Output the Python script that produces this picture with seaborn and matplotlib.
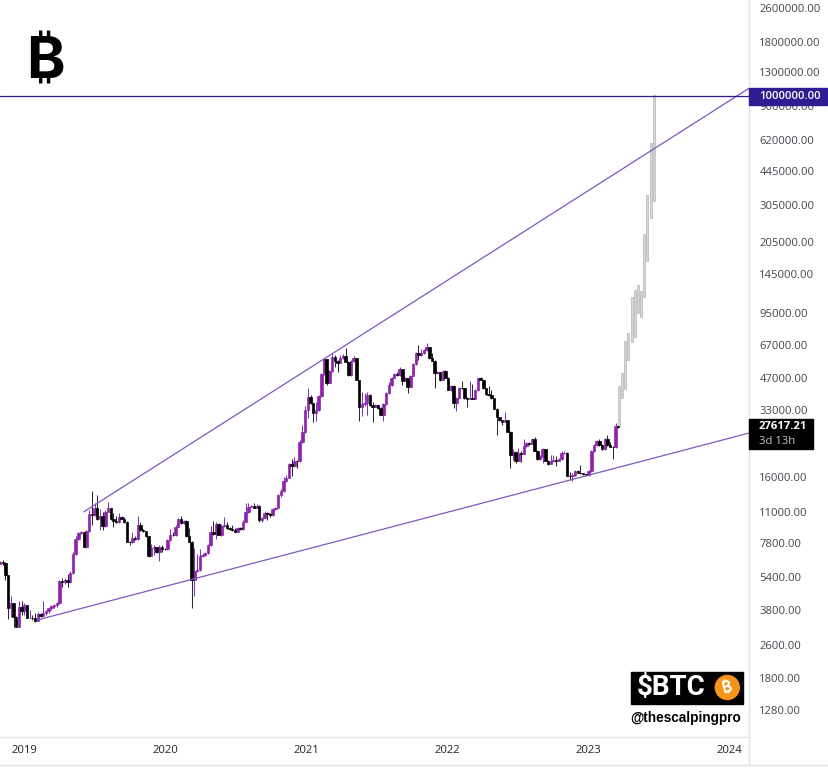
import matplotlib
matplotlib.use("Agg")
import matplotlib.pyplot as plt
import matplotlib.dates as mdates
from matplotlib.lines import Line2D
from matplotlib.patches import Rectangle, Ellipse
from matplotlib.ticker import NullLocator
import numpy as np
import pandas as pd
import seaborn as sns

# weekly candles
first_open = 6240
closes = [6380, 6290, 5500, 3880, 4090, 3520, 3160, 3910, 3760, 4000,
          3460, 3480, 3470, 3340, 3620, 3560, 3660, 3750, 3860, 3960,
          4000, 4080, 5190, 5100, 5250, 5100, 5680, 6960, 8190, 8710,
          8770, 7490, 8900, 10700, 10650, 11460, 10140, 10500, 9420, 11000,
          11460, 10200, 9980, 9870, 10360, 10200, 9870, 7950, 7870, 8250,
          8160, 9530, 9020, 8930, 8400, 6810, 7400, 7490, 7060, 7490,
          7330, 7310, 8100, 8550, 8490, 9350, 10140, 9710, 9950, 8400,
          7950, 5250, 5750, 5850, 6760, 6890, 7020, 7670, 8800, 8640,
          9630, 8550, 9450, 9530, 9190, 9090, 9020, 8860, 9190, 9090,
          9870, 10930, 11620, 11710, 11500, 11750, 10060, 10310, 10890, 10700,
          10620, 11300, 11500, 13190, 13820, 15350, 15860, 18410, 18070, 19140,
          19020, 23520, 26050, 33160, 38050, 35660, 32000, 33160, 38600, 48990,
          57630, 44580, 50440, 59080, 56580, 55370, 58070, 59530, 55970, 48460,
          56400, 58260, 45900, 34370, 35390, 35660, 39020, 35010, 34370, 35010,
          33890, 31410, 35390, 39740, 43490, 47060, 48830, 48300, 51710, 45560,
          46760, 42690, 48100, 54410, 61700, 60180, 61300, 63530, 65840, 58070,
          56580, 49360, 49900, 45900, 50770, 47060, 41190, 43020, 35890, 37650,
          42230, 41960, 37650, 37480, 37890, 37480, 41190, 46760, 45900, 41960,
          39310, 39020, 37650, 33640, 30640, 29760, 29220, 29760, 26210, 20360,
          21100, 19140, 20870, 20650, 22450, 23260, 22940, 24300, 21330, 19440,
          19980, 21730, 19140, 18470, 19080, 19290, 19140, 19440, 20740, 20870,
          16210, 16180, 16390, 17160, 16800, 16700, 16520, 16340, 17110, 21330,
          22690, 23700, 22690, 21660, 24220, 22690, 22280, 22130, 27880, 27617.21]
highs = [6450, 6520, 6340, 5540, 4410, 4090, 3550, 4150, 4190, 4090,
         4000, 3790, 3590, 3670, 3720, 3680, 4180, 3790, 3920, 4000,
         4050, 4110, 5250, 5380, 5360, 5600, 5790, 7110, 8400, 8830,
         8930, 8830, 9020, 11210, 13780, 12140, 13190, 11300, 11000, 11210,
         12230, 11460, 10820, 10500, 10890, 10500, 10390, 9950, 8040, 8860,
         8400, 10500, 9870, 9120, 8880, 8460, 7760, 7670, 7510, 7670,
         7670, 7430, 8190, 9090, 8770, 9530, 10280, 10500, 10060, 10060,
         9250, 8010, 7400, 6940, 7330, 7040, 7110, 7760, 9420, 9980,
         9870, 9740, 9630, 10360, 9870, 9320, 9530, 9220, 9320, 9320,
         10060, 12140, 12140, 11840, 12090, 11900, 11840, 10390, 11090, 10970,
         10890, 11390, 11580, 13330, 14080, 16070, 16390, 18670, 19440, 19980,
         19290, 23960, 28190, 34630, 41960, 38900, 35780, 36280, 39020, 49520,
         58070, 57630, 51160, 61300, 60180, 57010, 60180, 60840, 64710, 56400,
         57010, 59530, 58260, 45900, 40440, 39740, 40440, 39230, 36280, 35390,
         35010, 34070, 35780, 40310, 45060, 47420, 49520, 50220, 52680, 51710,
         47160, 46910, 48460, 54890, 62170, 67070, 64010, 64220, 68310, 65980,
         61500, 56700, 50330, 50060, 51160, 50880, 47160, 43490, 43250, 38180,
         42550, 45560, 42100, 38180, 45410, 44100, 41640, 47060, 47580, 45900,
         42100, 43020, 41190, 37770, 33710, 30740, 29760, 32560, 29760, 26410,
         21660, 21260, 21890, 21330, 24140, 23440, 23440, 24480, 24830, 21490,
         20250, 21960, 21730, 19180, 20360, 20360, 20140, 19600, 21330, 21260,
         20920, 16980, 16750, 17300, 17300, 18270, 16750, 16570, 17200, 21490,
         22940, 23960, 24220, 22820, 24480, 25290, 23440, 22450, 28660, 27880]
lows = [6240, 6180, 5210, 3440, 3520, 3160, 3140, 3150, 3590, 3590,
        3460, 3450, 3400, 3330, 3340, 3520, 3550, 3590, 3670, 3790,
        3870, 3920, 4050, 4880, 5030, 4830, 5080, 5600, 6890, 8100,
        8640, 7460, 7430, 8830, 9530, 10500, 10060, 9020, 9020, 9350,
        10970, 10060, 9350, 9770, 9740, 10170, 9740, 7930, 7650, 7800,
        8100, 8100, 8930, 8830, 8370, 6720, 6780, 6890, 7020, 6470,
        7060, 7270, 7270, 8010, 8460, 8420, 9320, 9630, 9630, 8370,
        7930, 3880, 4380, 5730, 5790, 6720, 6810, 6960, 7590, 8550,
        8190, 8500, 8460, 9320, 9120, 9020, 8930, 8830, 8830, 9020,
        9020, 9840, 10850, 11580, 11390, 11460, 9870, 9870, 10220, 10060,
        10360, 10500, 11210, 11460, 12910, 13630, 15100, 15770, 16260, 17820,
        17620, 18870, 23190, 25850, 30310, 35390, 29020, 29340, 32810, 38180,
        48460, 43490, 44440, 50060, 52680, 50220, 55190, 57630, 55790, 47940,
        47940, 55790, 45650, 29530, 31070, 34630, 31410, 34630, 29020, 34070,
        33530, 31240, 29340, 35010, 39440, 43020, 46910, 47940, 47940, 43490,
        45410, 39740, 42550, 47940, 54000, 57010, 59850, 60840, 62850, 57630,
        56400, 41960, 48990, 45410, 45650, 46910, 40970, 40750, 34000, 32920,
        37360, 41640, 37360, 34370, 37160, 37160, 37160, 40750, 45650, 41640,
        39020, 38600, 37360, 33530, 25290, 29530, 28190, 29120, 26130, 17620,
        19290, 18610, 19080, 18930, 20580, 22200, 22690, 22820, 21260, 19290,
        19290, 18610, 19080, 18330, 18370, 18870, 18070, 19080, 19290, 20580,
        16120, 15520, 15400, 16210, 16750, 16570, 16390, 16210, 16210, 16930,
        21030, 22450, 22450, 21490, 21490, 22450, 22080, 19500, 21960, 27290]

# projected grey bars
proj_dates = ["2023-03-22", "2023-03-29", "2023-04-07", "2023-04-14", "2023-04-25", "2023-05-02",
              "2023-05-10", "2023-05-18", "2023-05-26", "2023-06-03", "2023-06-13", "2023-06-21"]
proj_low = [27880, 37770, 41640, 57010, 69280, 73100, 94900, 90900, 112900, 166900, 266100, 320000]
proj_high = [43020, 49520, 70040, 76400, 112900, 121800, 128600, 120500, 223700, 341600, 600400, 1011000]

# trend lines
upper_dates = ["2019-06-03", "2024-02-22"]
upper_prices = [10970, 1087000]
lower_dates = ["2019-02-04", "2024-02-22"]
lower_prices = [3400, 25800]
target_price = 1000000

price_ticks = [2600000, 1800000, 1300000, 900000, 620000, 445000, 305000, 205000, 145000,
               95000, 67000, 47000, 33000, 16000, 11000, 7800, 5400, 3800, 2600, 1800, 1280]
year_ticks = [2019, 2020, 2021, 2022, 2023, 2024]

W, H = 829, 768
UP = "#8e24aa"
UP_WICK = "#7b35bd"
DOWN = "#000000"
DOWN_WICK = "#2a2a2e"
LINE = "#7e57c2"
INDIGO = "#311b92"
AXIS = "#e0e3eb"
TEXT = "#43464f"
BTC_FONTS = ["Inter", "Noto Sans", "Roboto", "Lato", "Open Sans", "Liberation Sans", "DejaVu Sans"]

sns.set_style("white")
plt.rcParams["font.family"] = ["Open Sans", "DejaVu Sans"]

def fx(px):
    return px / W

def fy(py):
    return 1 - py / H

fig = plt.figure(figsize=(W / 100, H / 100), dpi=100)
ax = fig.add_axes([0, fy(737), fx(749), 737 / H])

num = lambda d: mdates.date2num(pd.to_datetime(d))
dates = num(pd.date_range("2018-10-29", periods=len(closes), freq="7D"))
closes_a = np.array(closes, dtype=float)
opens_a = np.r_[first_open, closes_a[:-1]]
up = closes_a >= opens_a

ax.set_yscale("log")
# wicks
ax.vlines(dates[up], np.array(lows)[up], np.array(highs)[up], color=UP_WICK, lw=0.75, zorder=2)
ax.vlines(dates[~up], np.array(lows)[~up], np.array(highs)[~up], color=DOWN_WICK, lw=0.75, zorder=2)
# bodies
bar_w = 6.4
ax.bar(dates[up], (closes_a - opens_a)[up], bottom=opens_a[up], width=bar_w, color=UP, edgecolor=UP, lw=0.5, zorder=2.2)
ax.bar(dates[~up], (opens_a - closes_a)[~up], bottom=closes_a[~up], width=bar_w, color=DOWN, edgecolor=DOWN, lw=0.5, zorder=2.2)

pd_x = num(proj_dates)
ax.bar(pd_x, np.array(proj_high) - np.array(proj_low), bottom=proj_low, width=6.2,
       color="#d8d8d8", edgecolor="#b4b4b4", lw=0.5, zorder=2)

sns.lineplot(x=num(upper_dates), y=upper_prices, color=LINE, lw=0.9, ax=ax, zorder=3, estimator=None)
sns.lineplot(x=num(lower_dates), y=lower_prices, color=LINE, lw=0.9, ax=ax, zorder=3, estimator=None)
ax.axhline(target_price, color=INDIGO, lw=0.9, zorder=3)

ax.set_xlim(num("2018-10-28 20:00"), num("2024-02-22"))
ax.set_ylim(10 ** (6 - (737 - 96) / 212.2), 10 ** (6 + 96 / 212.2))

ax.yaxis.tick_right()
ax.set_yticks(price_ticks)
ax.set_yticklabels(["%.2f" % p for p in price_ticks])
ax.yaxis.set_minor_locator(NullLocator())
ax.set_xticks(num(["%d-01-01" % y for y in year_ticks]))
ax.set_xticklabels([str(y) for y in year_ticks])
ax.tick_params(axis="y", length=0, pad=7.5, labelsize=8.1, labelcolor=TEXT)
ax.tick_params(axis="x", length=0, pad=6, labelsize=8.1, labelcolor="#222222")
ax.grid(False)
for s in ["top", "left"]:
    ax.spines[s].set_visible(False)
for s in ["right", "bottom"]:
    ax.spines[s].set_color(AXIS)
    ax.spines[s].set_linewidth(1)

# axis frame below the time scale
fig.add_artist(Line2D([0, 1], [fy(764.5), fy(764.5)], color=AXIS, lw=1))
fig.add_artist(Line2D([fx(749), fx(749)], [fy(737), fy(765)], color=AXIS, lw=1))

# price labels
fig.add_artist(Rectangle((fx(749), fy(105)), fx(78), 17 / H, color=INDIGO, zorder=4))
fig.text(fx(759), fy(96.5), "1000000.00", color="white", fontsize=8.1, fontweight="semibold", va="center", zorder=5)
fig.add_artist(Rectangle((fx(749), fy(449)), fx(64), 30 / H, color="black", zorder=4))
fig.text(fx(759), fy(426.5), "27617.21", color="white", fontsize=8.1, fontweight="bold", va="center", zorder=5)
fig.text(fx(759), fy(441), "3d 13h", color="#c4c4c4", fontsize=8.1, va="center", zorder=5)

# logo
fig.text(fx(45.5), fy(63), "\u20bf", fontsize=42, fontweight="bold", family=BTC_FONTS,
         color="black", ha="center", va="center")

# watermark
fig.add_artist(Rectangle((fx(631), fy(704)), fx(112), 32 / H, color="black", zorder=4))
fig.text(fx(637), fy(688), "$BTC", color="white", fontsize=20, fontweight="bold", family=["Roboto", "DejaVu Sans"],
         va="center", zorder=5)
fig.add_artist(Ellipse((fx(727.3), fy(687.5)), fx(24), 24 / H, color="#f7931a", zorder=5))
fig.text(fx(727.3), fy(687.5), "\u20bf", color="white", fontsize=11, fontweight="bold", family=BTC_FONTS,
         rotation=14, ha="center", va="center", zorder=6)
fig.text(fx(630), fy(718), "@thescalpingpro", color="black", fontsize=9.8, fontweight="bold",
         family=["Liberation Sans", "DejaVu Sans"], va="center", zorder=5)

fig.savefig("out.png", dpi=100)
